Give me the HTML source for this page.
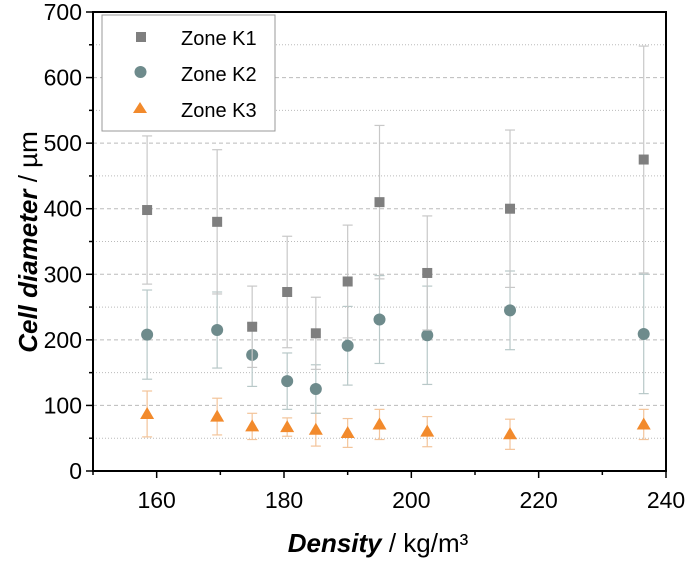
<!DOCTYPE html>
<html><head><meta charset="utf-8"><style>
body{margin:0;background:#fff;}
svg{display:block;font-family:"Liberation Sans",Arial,sans-serif;}
</style></head><body>
<svg id="chart" width="685" height="561" viewBox="0 0 685 561" xmlns="http://www.w3.org/2000/svg">
<g id="grid"></g>
<g id="series"></g>
<g id="axes"></g>
<g>
<rect x="102" y="15" width="173" height="116" fill="#fff" stroke="#999" stroke-width="1"/>
<g><rect x="136" y="32" width="10" height="10" fill="#7f7f7f"/><text x="181" y="45" font-size="20">Zone K1</text></g>
<g><circle cx="140.5" cy="72" r="6" fill="#6e8b8c"/><text x="181" y="81" font-size="20">Zone K2</text></g>
<g><polygon points="140,102 147,113 133,113" fill="#f28a2c"/><text x="181" y="117" font-size="20">Zone K3</text></g>
</g>
<text x="378" y="552" font-size="26" text-anchor="middle"><tspan font-weight="bold" font-style="italic">Density</tspan> / kg/m³</text>
<text transform="translate(37,242) rotate(-90)" font-size="26" text-anchor="middle"><tspan font-weight="bold" font-style="italic">Cell diameter</tspan> / µm</text>
</svg>
<script>
const densities=[158.5,169.5,175,180.5,185,190,195,202.5,215.5,236.5];
const k1Values=[398,380,220,273,210,289,410,302,400,475];
const k1Err=[113,110,62,85,55,86,117,87,120,173];
const k2Values=[208,215,177,137,125,191,231,207,245,209];
const k2Err=[68,58,48,43,37,60,67,75,60,91];
const k3Values=[87,83,68,67,63,58,71,60,56,71];
const k3Err=[35,28,20,14,25,22,23,23,23,23];
const xTicks=[160,180,200,220,240];
const yTicks=[0,100,200,300,400,500,600,700];

const NS="http://www.w3.org/2000/svg";
const L=93,R=666,T=12,B=471,xMin=150,xMax=240,yMin=0,yMax=700;
const xs=v=>L+(v-xMin)/(xMax-xMin)*(R-L);
const ys=v=>B-(v-yMin)/(yMax-yMin)*(B-T);
function mk(tag,attrs,parent){const e=document.createElementNS(NS,tag);for(const k in attrs)e.setAttribute(k,attrs[k]);parent.appendChild(e);return e;}
const grid=document.getElementById('grid'),axes=document.getElementById('axes'),ser=document.getElementById('series');
for(let v=50;v<yMax;v+=50){
  const g=mk('line',{x1:L,x2:R,y1:ys(v),y2:ys(v),stroke:'#bbb','stroke-width':1,'stroke-dasharray':v%100===0?'4,3':'1,2'},grid);
  
  
}
const fr=mk('rect',{x:L,y:T,width:R-L,height:B-T,fill:'none',stroke:'#000','stroke-width':2},axes);


for(let v=150;v<=240;v+=10){
  const t=mk('line',{x1:xs(v),x2:xs(v),y1:B,y2:B+(v%20===0?7:4),stroke:'#000','stroke-width':1.5},axes);
  
  
}
xTicks.forEach(v=>{
  const t=mk('text',{x:xs(v),y:B+37,'font-size':23,'text-anchor':'middle'},axes);t.textContent=v;
  
  
});
for(let v=0;v<=700;v+=50){
  const t=mk('line',{x1:L,x2:L-(v%100===0?7:4),y1:ys(v),y2:ys(v),stroke:'#000','stroke-width':1.5},axes);
  
  
}
yTicks.forEach(v=>{
  const t=mk('text',{x:L-11,y:ys(v)+8,'font-size':23,'text-anchor':'end'},axes);t.textContent=v;
  
  
});
function drawSeries(vals,errs,ec,fc,shape,name){
  densities.forEach((d,i)=>{
    const x=xs(d),y1=ys(vals[i]-errs[i]),y2=ys(vals[i]+errs[i]);
    const g=mk('g',{},ser);
    
    
    mk('line',{x1:x,x2:x,y1:y1,y2:y2,stroke:ec,'stroke-width':1.2},g);
    mk('line',{x1:x-5,x2:x+5,y1:y1,y2:y1,stroke:ec,'stroke-width':1.2},g);
    mk('line',{x1:x-5,x2:x+5,y1:y2,y2:y2,stroke:ec,'stroke-width':1.2},g);
  });
  densities.forEach((d,i)=>{
    const x=xs(d),y=ys(vals[i]);let m;
    if(shape==='sq')m=mk('rect',{x:x-5,y:y-5,width:10,height:10,fill:fc},ser);
    else if(shape==='c')m=mk('circle',{cx:x,cy:y,r:6,fill:fc},ser);
    else m=mk('polygon',{points:`${x},${y-7} ${x+7},${y+5} ${x-7},${y+5}`,fill:fc},ser);
    
    
  });
}
drawSeries(k3Values,k3Err,'#f3c49a','#f28a2c','t','zone-k3');
drawSeries(k2Values,k2Err,'#b8c8c8','#6e8b8c','c','zone-k2');
drawSeries(k1Values,k1Err,'#c8c8c8','#7f7f7f','sq','zone-k1');
</script>
</body></html>
